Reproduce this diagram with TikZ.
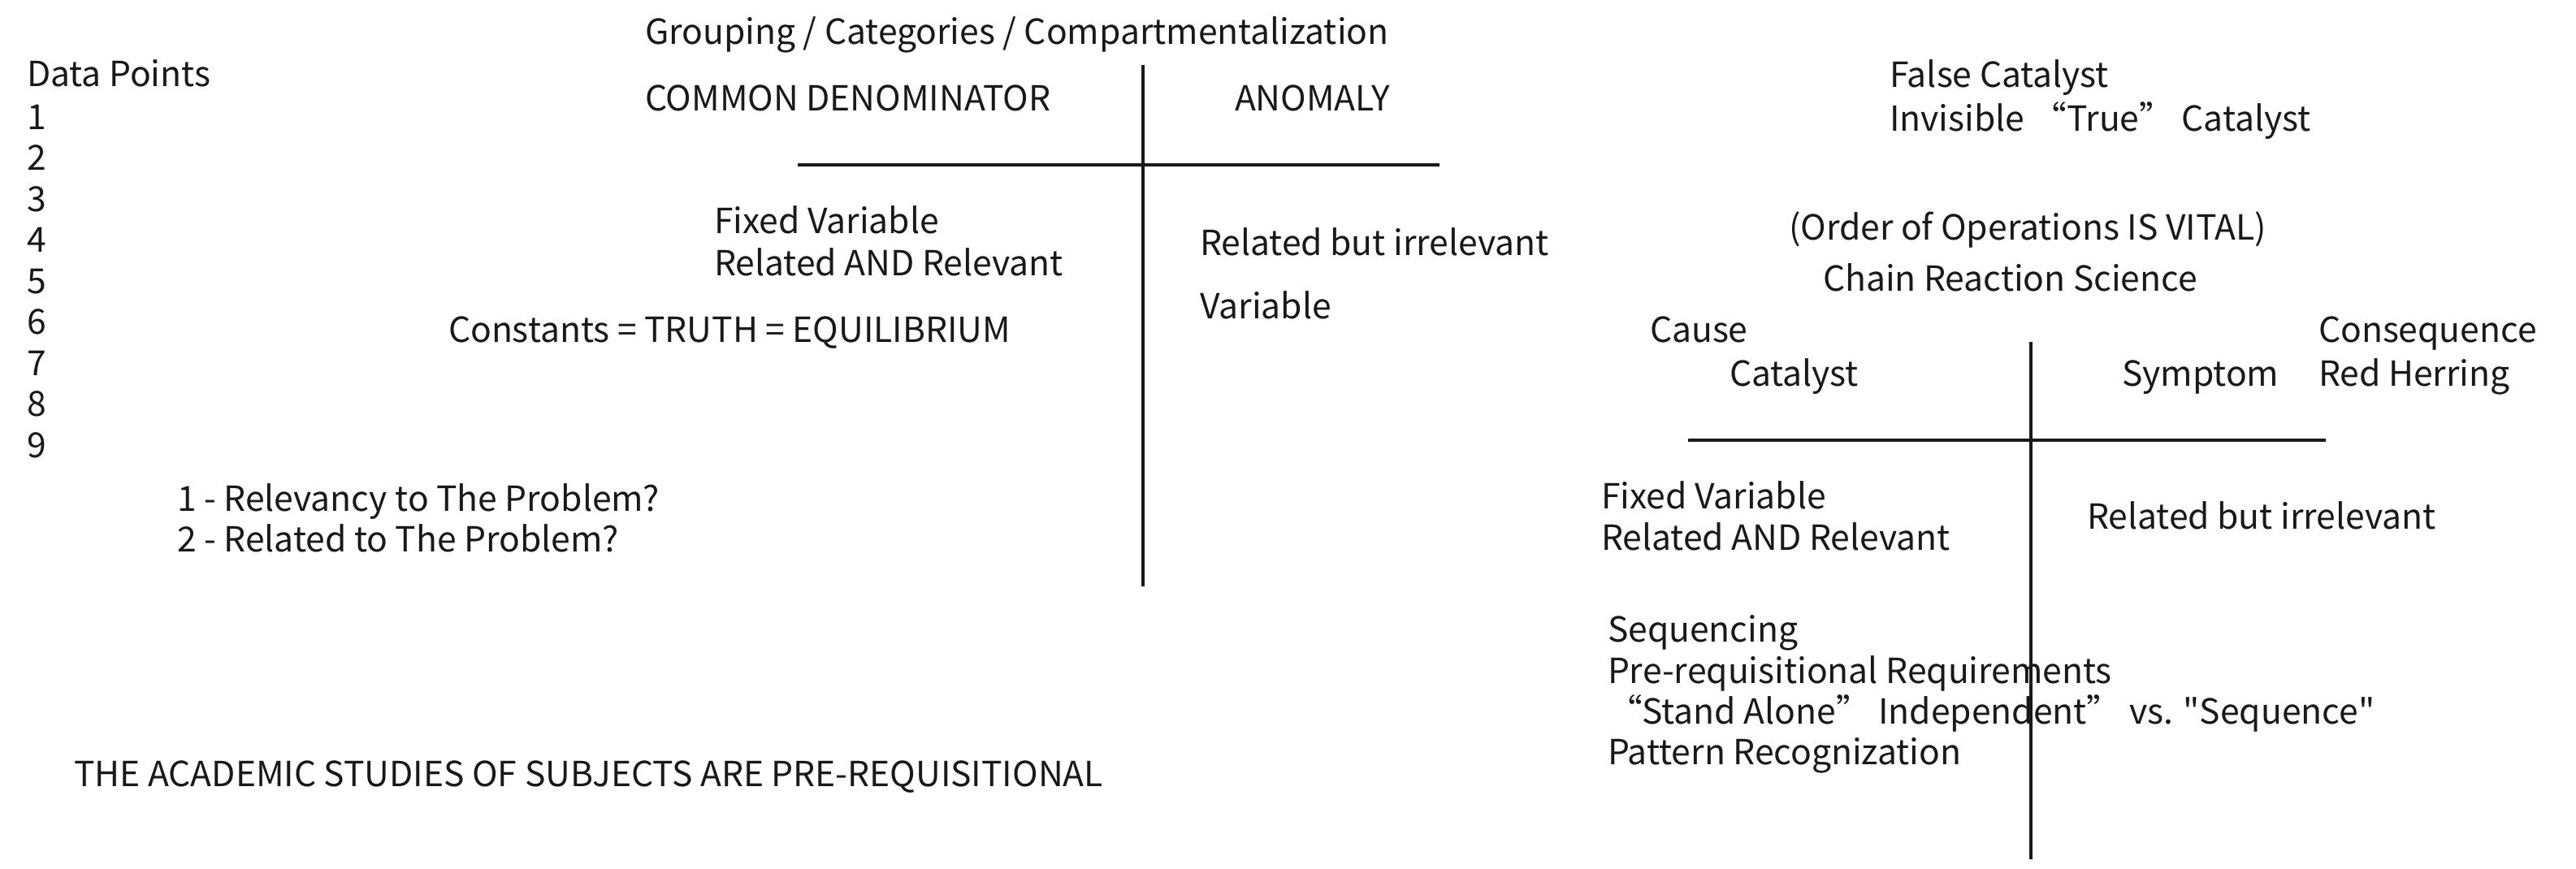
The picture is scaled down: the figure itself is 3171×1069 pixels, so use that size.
\documentclass[tikz,border=0pt]{standalone}
\usepackage{fontspec}
\setmainfont{Noto Sans CJK SC}
\begin{document}
\begin{tikzpicture}[x=1pt,y=-1pt,
  txt/.style={anchor=base west, inner sep=0pt, outer sep=0pt, font=\fontsize{42.6}{50}\selectfont, text=black!90},
  tline/.style={line width=4.5pt, draw=black!90}]
\fill[white] (0,0) rectangle (3171,1069);
\useasboundingbox (0,0) rectangle (3171,1069);
% left column
\node[txt] (dp) at (33,106) {Data Points};
\foreach \i in {1,...,9}{
  \node[txt] (d\i) at (33,{159+50.5*(\i-1)}) {\i};
}
\node[txt] (grp) at (794,54) {Grouping / Categories / Compartmentalization};
\node[txt] (cd) at (794,136) {COMMON DENOMINATOR};
\node[txt] (an) at (1520,136) {ANOMALY};
\node[txt] (fv1) at (879,287) {Fixed Variable};
\node[txt] (rar1) at (879,339) {Related AND Relevant};
\node[txt] (rbi1) at (1477,314) {Related but irrelevant};
\node[txt] (var1) at (1477,392) {Variable};
\node[txt] (const) at (552,421) {Constants = TRUTH = EQUILIBRIUM};
\node[txt] (q1) at (218,629) {1 - Relevancy to The Problem?};
\node[txt] (q2) at (218,679) {2 - Related to The Problem?};
\node[txt] (acad) at (91,968) {THE ACADEMIC STUDIES OF SUBJECTS ARE PRE-REQUISITIONAL};
% right side
\node[txt] (fc) at (2326,107) {False Catalyst};
\node[txt] (itc) at (2326,161) {Invisible “True” Catalyst};
\node[txt] (ord) at (2202,295) {(Order of Operations IS VITAL)};
\node[txt] (crs) at (2244,358) {Chain Reaction Science};
\node[txt] (cause) at (2031,421) {Cause};
\node[txt] (cons) at (2854,421) {Consequence};
\node[txt] (cat) at (2129,475) {Catalyst};
\node[txt] (sym) at (2612,475) {Symptom};
\node[txt] (rh) at (2854,475) {Red Herring};
\node[txt] (fv2) at (1971,626) {Fixed Variable};
\node[txt] (rar2) at (1971,677) {Related AND Relevant};
\node[txt] (rbi2) at (2569,651) {Related but irrelevant};
\node[txt] (seq) at (1979,790) {Sequencing};
\node[txt] (pre) at (1979,841) {Pre-requisitional Requirements};
\node[txt] (sa) at (1979,891) {“Stand Alone” Independent” vs. \textquotedbl Sequence\textquotedbl};
\node[txt] (pat) at (1979,941) {Pattern Recognization};
% T-chart lines
\coordinate (v1t) at (1407,80);
\coordinate (v1b) at (1407,722);
\coordinate (h1l) at (982,203);
\coordinate (h1r) at (1772,203);
\coordinate (v2t) at (2500,421);
\coordinate (v2b) at (2500,1058);
\coordinate (h2l) at (2078,542);
\coordinate (h2r) at (2863,542);
\draw[tline] (v1t) -- (v1b);
\draw[tline] (h1l) -- (h1r);
\draw[tline] (v2t) -- (v2b);
\draw[tline] (h2l) -- (h2r);
\end{tikzpicture}
\end{document}
